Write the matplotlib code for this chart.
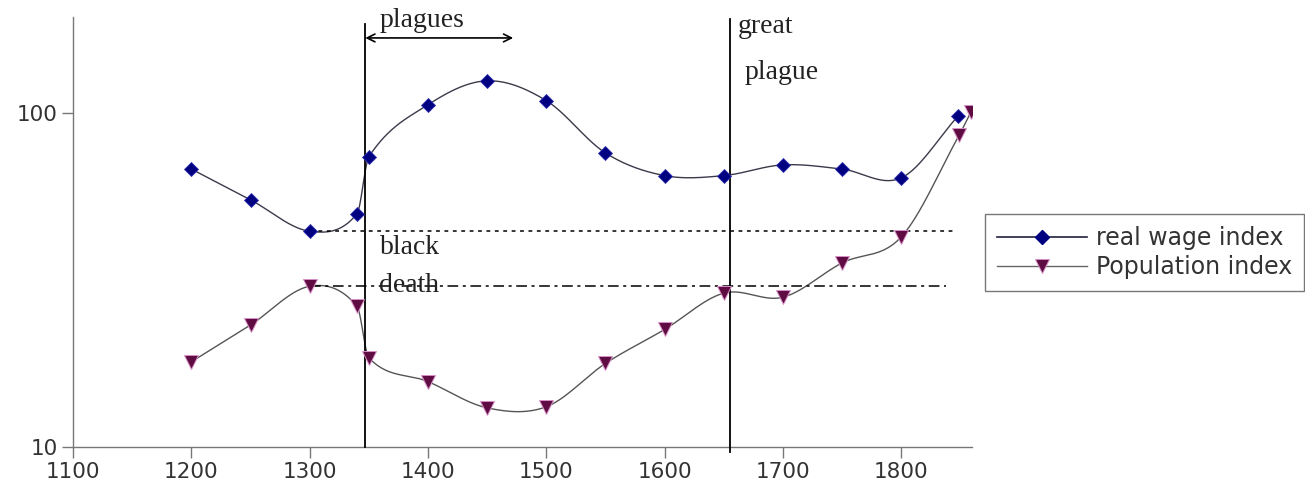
import numpy as np
import matplotlib
matplotlib.use("Agg")
import matplotlib.pyplot as plt
from matplotlib.lines import Line2D
from matplotlib.ticker import FixedLocator, FixedFormatter, NullLocator

# real wage index and population index (log scale), England 1200-1860
wage_years = [1200, 1250, 1300, 1340, 1350, 1400, 1450, 1500, 1550, 1600, 1650, 1700, 1750, 1800, 1848]
wage_vals = [68, 55, 44.3, 50, 74, 106, 125, 109, 76, 65, 65, 70, 68, 64, 98]

pop_years = [1200, 1250, 1300, 1340, 1350, 1400, 1450, 1500, 1550, 1600, 1650, 1700, 1750, 1800, 1849, 1859]
pop_vals = [18, 23.2, 30.3, 26.4, 18.5, 15.7, 13.1, 13.2, 17.8, 22.5, 28.9, 28.1, 35.6, 42.6, 86, 101]

xticks = [1100, 1200, 1300, 1400, 1500, 1600, 1700, 1800]
yticks = [10, 100]

black_death = 1347
great_plague = 1655
plague_span = (1347, 1472)


def hermite_curve(x, y, n=40):
    # piecewise cubic Hermite curve with finite-difference tangents
    x = np.asarray(x, float)
    y = np.asarray(y, float)
    m = np.empty_like(y)
    m[1:-1] = (y[2:] - y[:-2]) / (x[2:] - x[:-2])
    m[0] = (y[1] - y[0]) / (x[1] - x[0])
    m[-1] = (y[-1] - y[-2]) / (x[-1] - x[-2])
    xs_all, ys_all = [], []
    for i in range(len(x) - 1):
        h = x[i + 1] - x[i]
        t = np.linspace(0, 1, n)
        h00 = 2 * t ** 3 - 3 * t ** 2 + 1
        h10 = t ** 3 - 2 * t ** 2 + t
        h01 = -2 * t ** 3 + 3 * t ** 2
        h11 = t ** 3 - t ** 2
        xs_all.append(x[i] + t * h)
        ys_all.append(h00 * y[i] + h10 * h * m[i] + h01 * y[i + 1] + h11 * h * m[i + 1])
    return np.concatenate(xs_all), np.concatenate(ys_all)


fig = plt.figure(figsize=(13.05, 4.88), dpi=100)
ax = fig.add_axes([0.056, 0.084, 0.689, 0.881])

wage_col = "#000080"
pop_col = "#5e0c42"

# smooth curves, drawn in log space
xs, ys = hermite_curve(wage_years, np.log10(wage_vals))
ax.plot(xs, 10 ** ys, color="#3a3a4a", lw=1.0, zorder=2)
xs, ys = hermite_curve(pop_years, np.log10(pop_vals))
ax.plot(xs, 10 ** ys, color="#555555", lw=1.0, zorder=2)

ax.plot(wage_years, wage_vals, ls="none", marker="D", ms=6.8, color=wage_col,
        mec="#3030b0", mew=0.6, zorder=4)
ax.plot(pop_years, pop_vals, ls="none", marker="v", ms=9.5, color=pop_col,
        mec="#d890c8", mew=0.7, zorder=4)

# reference levels of 1300
ax.plot([1300, 1847], [wage_vals[2]] * 2, color="black", lw=1.1, ls=(0, (2.5, 3)), zorder=3)
ax.plot([1300, 1838], [pop_vals[2]] * 2, color="black", lw=1.1, ls=(0, (7, 3, 2, 3)), zorder=3)

# plague markers
ax.plot([black_death] * 2, [10, 185], color="black", lw=1.3, clip_on=False, zorder=3)
ax.plot([great_plague] * 2, [9.66, 192], color="black", lw=1.3, clip_on=False, zorder=3)
ax.annotate("", xy=(plague_span[0], 168), xytext=(plague_span[1], 168),
            arrowprops=dict(arrowstyle="<->", color="black", lw=1.2,
                            shrinkA=0, shrinkB=0, mutation_scale=14),
            annotation_clip=False)

serif = dict(family="Liberation Serif", fontsize=20, color="#222222", va="center", ha="left")
ax.text(1359, 190, "plagues", clip_on=False, **serif)
ax.text(1662, 182, "great", clip_on=False, **serif)
ax.text(1668, 132, "plague", clip_on=False, **serif)
ax.text(1359, 39.7, "black", **serif)
ax.text(1359, 30.5, "death", **serif)

ax.set_yscale("log")
ax.set_xlim(1100, 1860)
ax.set_ylim(10, 194)
ax.xaxis.set_major_locator(FixedLocator(xticks))
ax.yaxis.set_major_locator(FixedLocator(yticks))
ax.yaxis.set_major_formatter(FixedFormatter([str(v) for v in yticks]))
ax.yaxis.set_minor_locator(NullLocator())
ax.tick_params(axis="both", direction="out", length=8, width=1, color="#777777",
               labelsize=15.5, labelcolor="#333333", pad=3)

for side in ["top", "right"]:
    ax.spines[side].set_visible(False)
for side in ["left", "bottom"]:
    ax.spines[side].set_color("#777777")
    ax.spines[side].set_linewidth(1)

handles = [
    Line2D([], [], color="#202040", lw=1.2, marker="D", ms=6.8, mfc=wage_col, mec=wage_col),
    Line2D([], [], color="#666666", lw=1.0, marker="v", ms=9.5, mfc=pop_col, mec="#d890c8", mew=0.7),
]
leg = fig.legend(handles, ["real wage index", "Population index"],
                 loc="upper left", bbox_to_anchor=(0.755, 0.561),
                 bbox_transform=fig.transFigure, borderaxespad=0,
                 fontsize=17, handlelength=3.8, handletextpad=0.4,
                 labelspacing=0.22, borderpad=0.5, fancybox=False,
                 framealpha=1, edgecolor="#777777")
for t in leg.get_texts():
    t.set_color("#333333")

fig.savefig("out.png", dpi=100)
